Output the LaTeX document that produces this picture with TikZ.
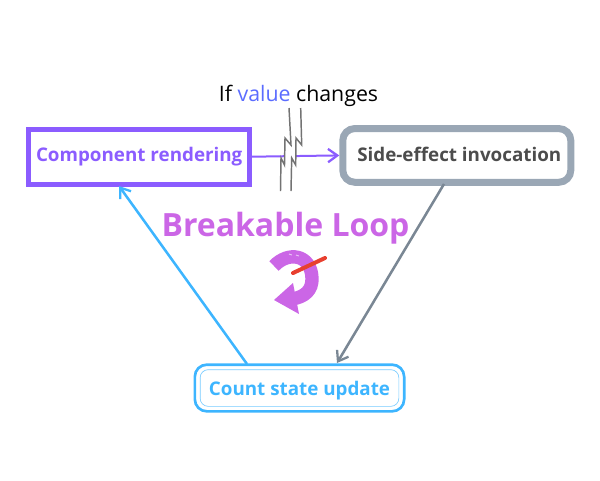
\documentclass[tikz,border=0pt]{standalone}
\usepackage{fontspec}
\setmainfont{Open Sans}
\usetikzlibrary{arrows.meta}
\definecolor{purpleC}{HTML}{8B5CFF}
\definecolor{valueC}{HTML}{5B6CFF}
\definecolor{grayC}{HTML}{9AA7B5}
\definecolor{linkC}{HTML}{7A8794}
\definecolor{skyC}{HTML}{3DB5FF}
\definecolor{loopC}{HTML}{CB66E6}
\definecolor{cutC}{HTML}{E8402F}
\tikzset{
	boxtext/.style={font=\bfseries\fontsize{14.1}{17}\selectfont,inner sep=0pt,anchor=center,text height=10.5pt,text depth=3pt},
	link/.style={line width=1.9pt,-{Straight Barb[length=7pt,width=10pt,line width=1.7pt]}},
	zigzag/.style={draw=black!55,line width=1.1pt},
}
\begin{document}
\begin{tikzpicture}[x=0.75pt,y=-0.75pt]
\useasboundingbox (0,0) rectangle (600,480);
\node[draw=purpleC,line width=3.75pt,text=purpleC,boxtext,minimum width=165.75pt,minimum height=41.25pt] (render) at (139.2,156.7) {Component rendering};
\node[draw=grayC,line width=5.25pt,rounded corners=9pt,text=black!70,boxtext,text height=12.4pt,minimum width=171pt,minimum height=40.3pt] (effect) at (456.8,155.4) {\hspace*{3.75pt}Side-effect invocation};
\node[draw=skyC,line width=2pt,rounded corners=9pt,inner sep=0pt,minimum width=157pt,minimum height=35pt] (count) at (299.5,388) {};
\node[draw=skyC!70,line width=0.5pt,rounded corners=6pt,text=skyC,boxtext,text height=13.5pt,minimum width=149pt,minimum height=27.5pt] (countin) at (299.5,388) {Count state update};
\node[font=\fontsize{16}{20}\selectfont,inner sep=0pt] (cond) at (298.5,96) {If \textcolor{valueC}{value} changes};
\node[font=\bfseries\fontsize{24}{29}\selectfont,text=loopC,inner sep=0pt] (title) at (285.5,228) {Breakable Loop};
% links
\coordinate (effectout) at (444,184);
\coordinate (countin1) at (337,363);
\coordinate (countout) at (247,364);
\coordinate (renderin) at (119,186);
\draw[link,purpleC,line width=1.5pt] (render.east) -- (effect.west);
\draw[link,linkC] (effectout) -- (countin1);
\draw[link,skyC] (countout) -- (renderin);
% break mark
\fill[white] (289,108) -- (291,145) -- (285,138) -- (284.5,165) -- (281,158) -- (280.5,191) -- (291,191) -- (291.7,158) -- (295.7,165) -- (296,138) -- (301.7,145) -- (300.7,108) -- cycle;
\draw[zigzag] (289,108) -- (291,145) -- (285,138) -- (284.5,165) -- (281,158) -- (280.5,191);
\draw[zigzag] (300.7,108) -- (301.7,145) -- (296,138) -- (295.7,165) -- (291.7,158) -- (291,191);
% loop icon
\draw[loopC,line width=10pt] (274,266) .. controls (288,251) and (311,254) .. (312,278) .. controls (312.5,290) and (305,297) .. (292,299);
\fill[loopC] (274,300) -- (293,283) -- (299,314) -- cycle;
\foreach \x/\y in {289/254,296/255}{
	\draw[white!60!loopC,line width=0.7pt] (\x,\y) -- ++(3,1);}
\draw[cutC,line width=3pt,line cap=round] (293,273) -- (325,258);
\end{tikzpicture}
\end{document}
